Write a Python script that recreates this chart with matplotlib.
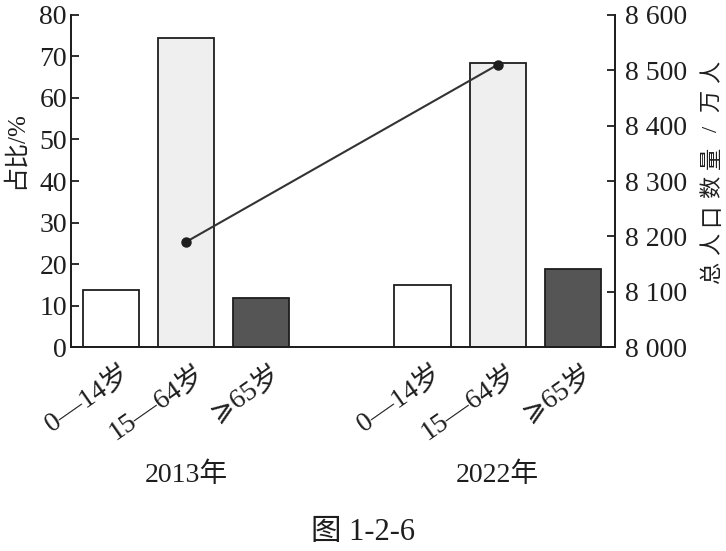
#!/usr/bin/env python3
"""2013 / 2022 年龄结构占比 + 总人口数量 — 双轴柱线图"""

import matplotlib

matplotlib.use('Agg')
import matplotlib.pyplot as plt
from matplotlib.ticker import FuncFormatter

# ── Fonts ─────────────────────────────────────────────────────────────────────
SERIF = ['Liberation Serif', 'DejaVu Serif', 'Noto Sans CJK SC', 'DejaVu Sans']
plt.rcParams['font.family'] = SERIF
plt.rcParams['axes.unicode_minus'] = False

# ── Data ──────────────────────────────────────────────────────────────────────
years = ['2013年', '2022年']
age_groups = ['0—14岁', '15—64岁', '⩾65岁']
share_2013 = [13.8, 74.4, 11.8]          # 占比 %
share_2022 = [15.0, 68.5, 18.8]
total_pop = [8190, 8510]                 # 总人口数量 / 万人

# ── Style ─────────────────────────────────────────────────────────────────────
INK = '#1e1e1e'
BAR_COLORS = ['#ffffff', '#efefef', '#555555']
BAR_W = 0.75
GROUP_GAP = 4.15     # x offset of the second group

fig = plt.figure(figsize=(7.26, 5.51), dpi=100)
fig.patch.set_facecolor('white')
ax = fig.add_axes([0.098, 0.370, 0.749, 0.603])
ax2 = ax.twinx()

xs, heights, colors, labels = [], [], [], []
for g, shares in enumerate([share_2013, share_2022]):
    for i, v in enumerate(shares):
        xs.append(g * GROUP_GAP + i)
        heights.append(v)
        colors.append(BAR_COLORS[i])
        labels.append(age_groups[i])

ax.bar(xs, heights, width=BAR_W, color=colors, edgecolor=INK,
       linewidth=1.3, zorder=2)

# line connects the middle (15—64岁) bars of each year
line_x = [g * GROUP_GAP + 1 for g in range(len(years))]
ax2.plot(line_x, total_pop, color='#333333', lw=1.5, marker='o',
         markersize=6.5, markerfacecolor=INK, markeredgecolor=INK,
         zorder=3)

# ── Axes ──────────────────────────────────────────────────────────────────────
ax.set_xlim(-0.53, 6.71)
ax.set_ylim(0, 80)
ax.set_yticks(range(0, 81, 10))
ax2.set_ylim(8000, 8600)
ax2.set_yticks(range(8000, 8601, 100))
ax2.yaxis.set_major_formatter(
    FuncFormatter(lambda v, _: f'{int(v):,}'.replace(',', ' ')))

for a in (ax, ax2):
    a.spines['top'].set_visible(False)
    for s in a.spines.values():
        s.set_linewidth(1.3)
        s.set_color(INK)
    a.tick_params(axis='y', direction='in', length=6, width=1.3,
                  labelsize=20, colors=INK)
ax.tick_params(axis='y', pad=3)
ax2.tick_params(axis='y', pad=7)

# x labels: rotated age groups under each bar
ax.set_xticks(xs)
ax.set_xticklabels([])
ax.tick_params(axis='x', length=0)
for x, lab in zip(xs, labels):
    ax.text(x + 0.12, -3.0, lab, rotation=35, rotation_mode='anchor',
            ha='right', va='top', fontsize=20, color=INK,
            family=SERIF, clip_on=False)

for g, yr in enumerate(years):
    ax.text(g * GROUP_GAP + 1, -30.8, yr, ha='center', va='center',
            fontsize=20, color=INK, family=SERIF, clip_on=False)

# axis titles
fig.text(0.020, 0.727, '占比/%', rotation=90, ha='center', va='center',
         fontsize=18, family=SERIF, color=INK)

# right title is letter-spaced, read bottom → top
RIGHT_TITLE = '总人口数量/万人'
PITCH = 0.0521
for k, ch in enumerate(RIGHT_TITLE):
    fig.text(0.982, 0.505 + k * PITCH, ch, rotation=90, ha='center',
             va='center', fontsize=16, family=SERIF, color=INK)

fig.text(0.5, 0.033, '图 1-2-6', ha='center', va='center', fontsize=22,
         family=SERIF, color=INK)

fig.savefig('out.png', dpi=100, facecolor='white')
